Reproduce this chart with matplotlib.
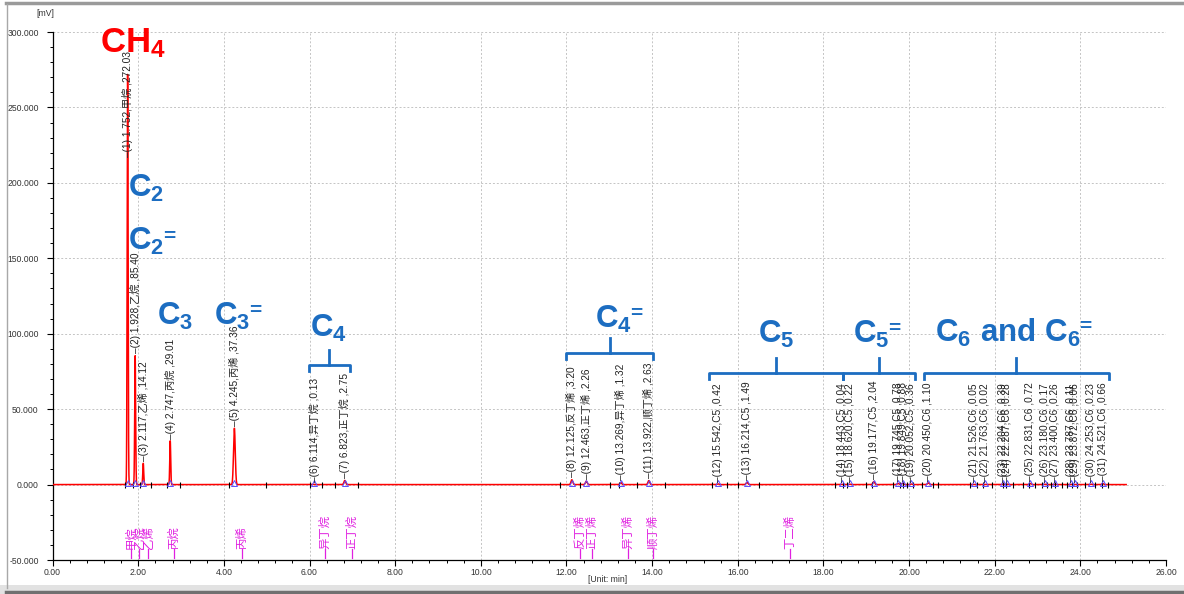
import numpy as np
import matplotlib
matplotlib.use("Agg")
import matplotlib.pyplot as plt
from matplotlib.ticker import MultipleLocator, FormatStrFormatter
from matplotlib.lines import Line2D
from matplotlib.patches import Rectangle

plt.rcParams["font.family"] = ["Liberation Sans", "Noto Sans CJK SC"]
plt.rcParams["mathtext.fontset"] = "custom"
plt.rcParams["mathtext.rm"] = "Liberation Sans:bold"
plt.rcParams["mathtext.it"] = "Liberation Sans:bold"
plt.rcParams["mathtext.bf"] = "Liberation Sans:bold"

# ── Peak table (retention time [min], name, height [mV]) ───────────────
peak_rt = [1.752, 1.928, 2.117, 2.747, 4.245, 6.114, 6.823, 12.125, 12.463,
           13.269, 13.922, 15.542, 16.214, 18.443, 18.620, 19.177, 19.745,
           19.849, 20.052, 20.450, 21.526, 21.763, 22.204, 22.287, 22.831,
           23.180, 23.400, 23.787, 23.872, 24.253, 24.521]
peak_name = ["甲烷", "乙烷", "乙烯", "丙烷", "丙烯", "异丁烷", "正丁烷",
             "反丁烯", "正丁烯", "异丁烯", "顺丁烯",
             "C5", "C5", "C5", "C5", "C5", "C5", "C5", "C5",
             "C6", "C6", "C6", "C6", "C6", "C6", "C6", "C6", "C6", "C6", "C6", "C6"]
peak_height = [272.03, 85.40, 14.12, 29.01, 37.36, 0.13, 2.75, 3.20, 2.26,
               1.32, 2.63, 0.42, 1.49, 0.04, 0.22, 2.04, 0.78, 0.88, 0.36,
               1.10, 0.05, 0.02, 0.39, 0.28, 0.72, 0.17, 0.26, 0.11, 0.06,
               0.23, 0.66]

# integration event marks on the baseline [min]
event_times = [1.69, 1.88, 2.04, 2.30, 2.67, 2.98, 4.11, 4.98, 6.01, 6.29,
               6.59, 7.13, 11.85, 12.31, 13.01, 13.22, 13.64, 14.30, 15.39,
               15.74, 16.0, 16.5, 18.27, 18.45, 18.55, 19.0, 19.13, 19.62,
               19.78, 19.85, 19.95, 20.09, 20.30, 20.56, 20.67, 21.42, 21.58,
               21.72, 21.93, 22.19, 22.26, 22.42, 22.66, 22.80, 22.94, 23.10,
               23.22, 23.31, 23.41, 23.57, 23.69, 23.80, 23.92, 24.10, 24.34,
               24.50, 24.64]

# reference component table (magenta marks)
ref_name = ["甲烷", "乙烷", "乙烯", "丙烷", "丙烯", "异丁烷", "正丁烷",
            "反丁烯", "正丁烯", "异丁烯", "顺丁烯", "丁二烯"]
ref_rt = [1.83, 2.02, 2.23, 2.83, 4.42, 6.36, 6.99, 12.31, 12.59, 13.43,
          14.02, 17.22]

# group annotations
group_text = ["CH4", "C2", "C2=", "C3", "C3=", "C4", "C4=", "C5", "C5=",
              "C6 and C6="]
group_pos = [(1.11, 286.8), (1.76, 190.7), (1.76, 155.6), (2.44, 106.0),
             (3.77, 106.0), (6.01, 98.0), (12.66, 104.0), (16.47, 94.0),
             (18.69, 94.0), (20.60, 94.7)]
# brackets: (start, end, level)
bracket_span = [(5.99, 6.94, 79.5), (11.99, 14.02, 87.4), (15.33, 18.45, 74.2),
                (18.45, 20.13, 74.2), (20.34, 24.66, 74.2)]

RED = "#ff0000"
BLUE = "#1c6dc1"
MAGENTA = "#e020e0"


def to_math(s):
    # "C6 and C6" -> C_6 and C_6 in bold mathtext
    out = ""
    for ch in s:
        if ch.isdigit():
            out += "_" + ch
        elif ch == " ":
            out += r"\ "
        else:
            out += ch
    return r"$\mathrm{" + out + "}$"


# ── Figure ────────────────────────────────────────────────────────────
fig = plt.figure(figsize=(11.84, 5.94), dpi=100)
W, H = 1184, 594
ax = fig.add_axes([52.6 / W, 1 - 560 / H, (1166 - 52.6) / W, (560 - 32) / H])

# trace built from the peak table
t = np.linspace(0, 25.07, 30000)
signal = np.zeros_like(t)
for rt, h in zip(peak_rt, peak_height):
    sig = 0.011 if rt < 3 else 0.02
    signal += h * np.exp(-0.5 * ((t - rt) / sig) ** 2)
ax.plot(t, signal, color=RED, lw=1.1, zorder=4)

# baseline marks
ax.plot(event_times, np.zeros(len(event_times)), ls="none", marker="|",
        color="black", ms=5, mew=0.8, zorder=5)
ax.plot(peak_rt, np.full(len(peak_rt), 1.0), ls="none", marker="^",
        mfc="none", mec="#5a4cff", ms=4, mew=0.7, zorder=5)

# peak labels
for i, (rt, name, h) in enumerate(zip(peak_rt, peak_name, peak_height), 1):
    y0 = min(h + 1.5, 217)
    ax.text(rt, y0, f"–({i}) {rt:.3f},{name} ,{h:.2f}", rotation=90,
            ha="center", va="bottom", fontsize=7.3, color="#222222", zorder=6)

# reference component marks
for rt, name in zip(ref_rt, ref_name):
    ax.plot([rt, rt], [-48.5, -43], color=MAGENTA, lw=0.9, zorder=5)
    ax.text(rt, -42.5, name, rotation=90, ha="center", va="bottom",
            fontsize=8.2, color=MAGENTA, zorder=6)

# group labels
for txt, (x, y) in zip(group_text, group_pos):
    is_ch4 = txt.startswith("CH")
    col = RED if is_ch4 else BLUE
    base = txt.rstrip("=")
    art = ax.text(x, y, to_math(base), ha="left", va="baseline",
                  fontsize=25 if is_ch4 else 22.5, color=col, zorder=7)
    if txt.endswith("="):
        ax.annotate("=", xy=(1, 1), xycoords=art, xytext=(-1, -0.5),
                    textcoords="offset points", ha="left", va="top",
                    fontsize=15, fontweight="bold", color=col, zorder=7)

for x1, x2, lev in bracket_span:
    xm = (x1 + x2) / 2
    ax.plot([x1, x1, x2, x2], [lev - 4, lev, lev, lev - 4], color=BLUE,
            lw=2, solid_joinstyle="round", zorder=6)
    ax.plot([xm, xm], [lev, lev + 10], color=BLUE, lw=2, zorder=6)

# ── Axes styling ──────────────────────────────────────────────────────
ax.set_xlim(0, 26)
ax.set_ylim(-50, 300)
ax.xaxis.set_major_locator(MultipleLocator(2))
ax.xaxis.set_minor_locator(MultipleLocator(0.4))
ax.yaxis.set_major_locator(MultipleLocator(50))
ax.yaxis.set_minor_locator(MultipleLocator(10))
ax.xaxis.set_major_formatter(FormatStrFormatter("%.2f"))
ax.yaxis.set_major_formatter(FormatStrFormatter("%.3f"))
for s in ("top", "right"):
    ax.spines[s].set_visible(False)
for s in ("left", "bottom"):
    ax.spines[s].set_linewidth(0.9)
ax.tick_params(axis="both", which="major", labelsize=6.2, labelcolor="#333333",
               direction="out", length=4, width=0.8)
ax.tick_params(axis="both", which="minor", direction="out", length=2.5, width=0.7)
ax.tick_params(axis="x", pad=1.5)
ax.tick_params(axis="y", pad=6)
ax.grid(True, which="major", ls=(0, (2, 2)), lw=0.7, color="#c4c4c4", zorder=0)
ax.set_axisbelow(True)

fig.text(45 / W, 1 - 14 / H, "[mV]", fontsize=6.2, color="#333333",
         ha="center", va="center")
fig.text(608 / W, 1 - 579 / H, "[Unit: min]", fontsize=6.2, color="#333333",
         ha="center", va="center")

# window frame
fig.add_artist(Line2D([6 / W, 1], [1 - 3 / H] * 2, color="#9a9a9a", lw=2.5,
                      transform=fig.transFigure))
fig.add_artist(Line2D([7 / W] * 2, [1 - 4 / H, 1 - 588 / H], color="#a8a8a8",
                      lw=1, transform=fig.transFigure))
fig.add_artist(Rectangle((0, 0), 1, 9 / H, color="#e2e2e2", lw=0,
                         transform=fig.transFigure))
fig.add_artist(Line2D([6 / W, 1], [2 / H] * 2, color="#707070", lw=2.5,
                      transform=fig.transFigure))

fig.savefig("out.png", dpi=100, facecolor="white")
